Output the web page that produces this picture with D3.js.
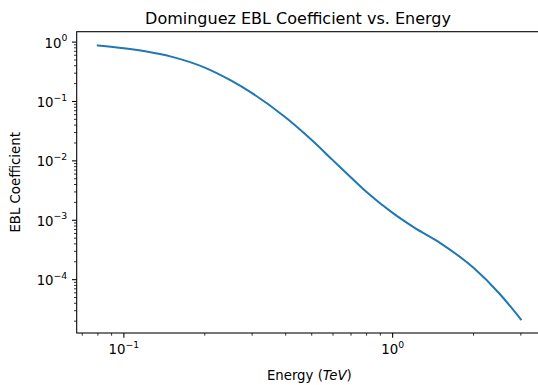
<!DOCTYPE html>
<html>
<head>
<meta charset="utf-8">
<script src="https://cdn.jsdelivr.net/npm/d3@7"></script>
<style>
  body { margin: 0; background: #fff; }
  svg text { font-family: "DejaVu Sans", sans-serif; fill: #000; }
</style>
</head>
<body>
<svg id="chart" width="538" height="385"></svg>
<script>
// EBL attenuation coefficient
const energy = [0.08, 0.1, 0.12, 0.15, 0.2, 0.25, 0.3, 0.4, 0.5, 0.6, 0.7, 0.8, 1.0, 1.2, 1.5, 2.0, 2.5, 3.0];
const coefficient = [0.88, 0.79, 0.70, 0.57, 0.372, 0.226, 0.138, 0.0537, 0.0224, 0.0102, 0.00525, 0.00299,
  0.00133, 7.6e-4, 4.17e-4, 1.58e-4, 5.8e-5, 2.15e-5];
const xTickExps = [-1, 0];
const yTickExps = [0, -1, -2, -3, -4];

const svg = d3.select("#chart");

const plotLeft = 76.7, plotTop = 31.7, plotRight = 542, plotBottom = 333;
const tickFont = 13.3;

// matplotlib style 5% margins in log space
const pad = (vals) => {
  const lo = Math.log10(d3.min(vals)), hi = Math.log10(d3.max(vals));
  const m = (hi - lo) * 0.05;
  return [Math.pow(10, lo - m), Math.pow(10, hi + m)];
};

const x = d3.scaleLog().domain(pad(energy)).range([plotLeft, plotRight]);
const y = d3.scaleLog().domain(pad(coefficient)).range([plotBottom, plotTop]);

const isMajor = (v) => Math.abs(Math.log10(v) - Math.round(Math.log10(v))) < 1e-9;

// ticks
const xTicks = x.ticks();
const yTicks = y.ticks();

const xAxis = svg.append("g");
xAxis.selectAll("line")
  .data(xTicks)
  .join("line")
  .attr("x1", (d) => x(d)).attr("x2", (d) => x(d))
  .attr("y1", plotBottom).attr("y2", (d) => plotBottom + (isMajor(d) ? 4.7 : 2.7))
  .attr("stroke", "#000").attr("stroke-width", (d) => (isMajor(d) ? 1.07 : 0.8));

const yAxis = svg.append("g");
yAxis.selectAll("line")
  .data(yTicks)
  .join("line")
  .attr("y1", (d) => y(d)).attr("y2", (d) => y(d))
  .attr("x1", plotLeft).attr("x2", (d) => plotLeft - (isMajor(d) ? 4.7 : 2.7))
  .attr("stroke", "#000").attr("stroke-width", (d) => (isMajor(d) ? 1.07 : 0.8));

// "10^n" labels
const powLabel = (sel, e) => {
  sel.append("tspan").text("10");
  sel.append("tspan")
    .attr("dy", -6.3)
    .attr("font-size", tickFont * 0.7)
    .text(e < 0 ? "\u2212" + Math.abs(e) : String(e));
};

xTickExps.forEach((e) => {
  const t = svg.append("text")
    .attr("x", x(Math.pow(10, e)))
    .attr("y", 354)
    .attr("text-anchor", "middle")
    .attr("font-size", tickFont);
  powLabel(t, e);
});

yTickExps.forEach((e) => {
  const t = svg.append("text")
    .attr("x", plotLeft - 9.4)
    .attr("y", y(Math.pow(10, e)) + 5.5)
    .attr("text-anchor", "end")
    .attr("font-size", tickFont);
  powLabel(t, e);
});

// curve
const line = d3.line()
  .x((d, i) => x(energy[i]))
  .y((d) => y(d))
  .curve(d3.curveMonotoneX);

svg.append("path")
  .datum(coefficient)
  .attr("d", line)
  .attr("fill", "none")
  .attr("stroke", "#1f77b4")
  .attr("stroke-width", 2)
  .attr("stroke-linejoin", "round")
  .attr("stroke-linecap", "square");

// frame
svg.append("rect")
  .attr("x", plotLeft).attr("y", plotTop)
  .attr("width", plotRight - plotLeft).attr("height", plotBottom - plotTop)
  .attr("fill", "none")
  .attr("stroke", "#000")
  .attr("stroke-width", 1.07);

// texts
svg.append("text")
  .attr("x", 298)
  .attr("y", 23.5)
  .attr("text-anchor", "middle")
  .attr("font-size", 16)
  .text("Dominguez EBL Coefficient vs. Energy");

const xl = svg.append("text")
  .attr("x", (plotLeft + plotRight) / 2)
  .attr("y", 380)
  .attr("text-anchor", "middle")
  .attr("font-size", tickFont);
xl.append("tspan").text("Energy (");
xl.append("tspan").attr("font-style", "italic").text("TeV");
xl.append("tspan").text(")");

svg.append("text")
  .attr("transform", `translate(20, ${(plotTop + plotBottom) / 2}) rotate(-90)`)
  .attr("text-anchor", "middle")
  .attr("font-size", tickFont)
  .text("EBL Coefficient");
</script>
</body>
</html>
